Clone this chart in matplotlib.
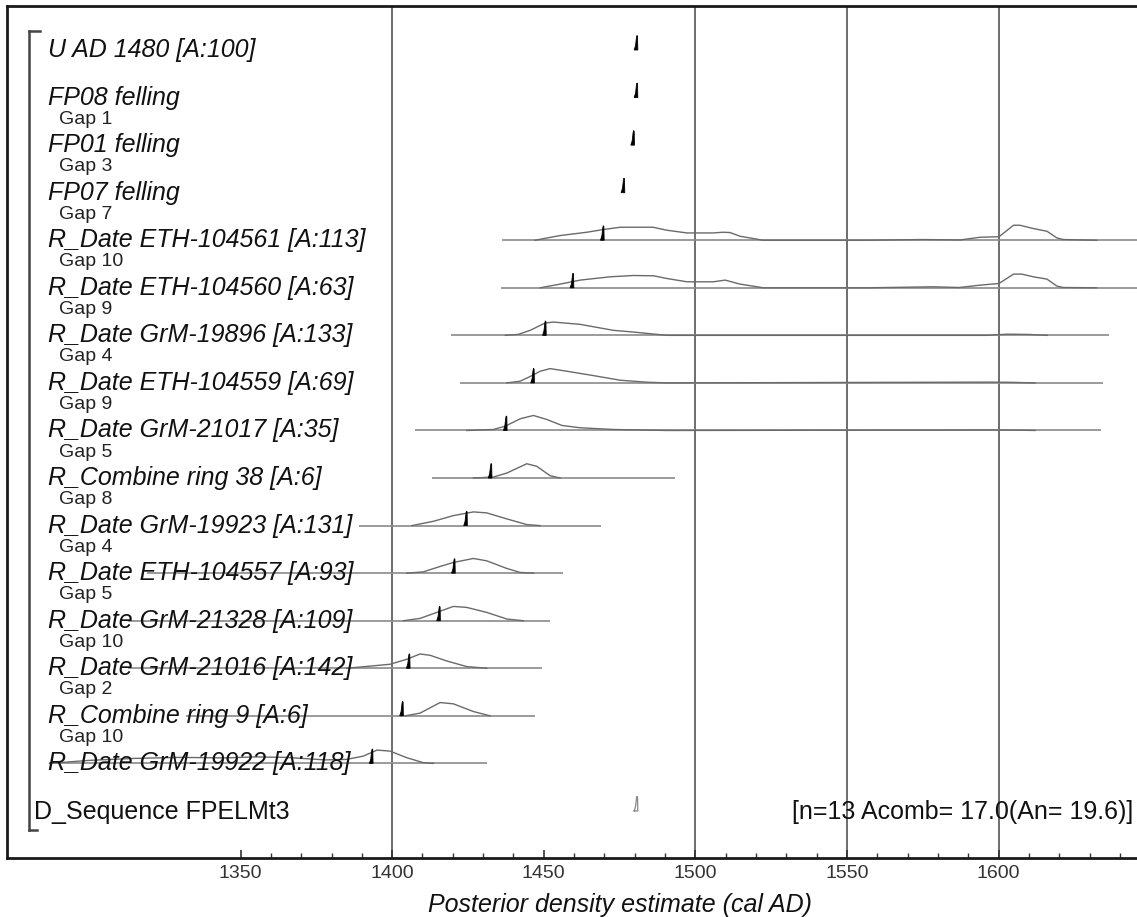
import numpy as np
import matplotlib
matplotlib.use("Agg")
import matplotlib.pyplot as plt
from matplotlib.lines import Line2D

plt.rcParams['font.family'] = ['Liberation Sans', 'DejaVu Sans']

# ---------------- data ----------------
labels = [
    "U AD 1480 [A:100]",
    "FP08 felling",
    "FP01 felling",
    "FP07 felling",
    "R_Date ETH-104561 [A:113]",
    "R_Date ETH-104560 [A:63]",
    "R_Date GrM-19896 [A:133]",
    "R_Date ETH-104559 [A:69]",
    "R_Date GrM-21017 [A:35]",
    "R_Combine ring 38 [A:6]",
    "R_Date GrM-19923 [A:131]",
    "R_Date ETH-104557 [A:93]",
    "R_Date GrM-21328 [A:109]",
    "R_Date GrM-21016 [A:142]",
    "R_Combine ring 9 [A:6]",
    "R_Date GrM-19922 [A:118]",
    "D_Sequence FPELMt3",
]
gap_labels = [None, None, "Gap 1", "Gap 3", "Gap 7", "Gap 10", "Gap 9", "Gap 4",
              "Gap 9", "Gap 5", "Gap 8", "Gap 4", "Gap 5", "Gap 10", "Gap 2",
              "Gap 10", None]
posterior_mode = [1480.7, 1480.7, 1479.6, 1476.4, 1469.6, 1459.6, 1450.5,
                  1446.6, 1437.6, 1432.6, 1424.5, 1420.5, 1415.6, 1405.6,
                  1403.4, 1393.4, 1480.7]
range_start = [None, None, None, None, 1436.3, 1436.0, 1419.3, 1422.4, 1407.4,
               1413.3, 1389.0, 1319.0, 1313.0, 1313.0, 1332.0, 1287.0, None]
range_end = [None, None, None, None, 1650.0, 1650.0, 1636.4, 1634.4, 1633.7,
             1493.3, 1469.0, 1456.3, 1452.0, 1449.4, 1447.0, 1431.2, None]

likelihood_years = [
    None, None, None, None,
    [1447.1, 1455.4, 1464.2, 1469.6, 1475.2, 1486.0, 1490.6, 1497.2, 1505.8,
     1509.1, 1511.4, 1514.7, 1522.3, 1556.5, 1575.0, 1587.3, 1593.9, 1600.1,
     1604.9, 1607.0, 1611.4, 1615.9, 1619.2, 1621.3, 1632.3],
    [1448.8, 1455.4, 1462.0, 1471.9, 1479.6, 1486.2, 1490.6, 1497.2, 1505.9,
     1509.8, 1514.7, 1522.4, 1556.5, 1578.4, 1587.0, 1594.0, 1600.1, 1604.9,
     1607.6, 1611.4, 1615.9, 1619.2, 1621.3, 1632.3],
    [1437.3, 1441.6, 1445.5, 1450.4, 1453.2, 1462.0, 1473.0, 1479.6, 1490.6,
     1596.0, 1603.0, 1610.0, 1616.0],
    [1437.8, 1442.2, 1446.1, 1448.8, 1452.1, 1457.6, 1466.4, 1475.2, 1484.0,
     1490.6, 1597.0, 1604.0, 1612.0],
    [1424.6, 1433.4, 1437.3, 1442.2, 1446.6, 1451.0, 1456.0, 1462.0, 1473.0,
     1490.6, 1598.0, 1605.0, 1612.0],
    [1426.8, 1433.4, 1437.8, 1444.4, 1447.7, 1452.1, 1455.4],
    [1406.5, 1413.6, 1420.2, 1426.8, 1431.2, 1437.8, 1444.4, 1448.8],
    [1404.8, 1410.3, 1415.8, 1420.2, 1426.8, 1431.2, 1437.8, 1442.2, 1446.6],
    [1403.7, 1409.2, 1414.7, 1420.2, 1424.6, 1431.2, 1437.8, 1443.3],
    [1385.0, 1399.3, 1404.8, 1409.2, 1412.5, 1418.0, 1424.6, 1431.2],
    [1404.3, 1409.2, 1415.8, 1420.2, 1426.8, 1432.3],
    [1287.0, 1300.0, 1315.0, 1330.0, 1345.0, 1355.0, 1365.0, 1378.0, 1385.0,
     1390.5, 1395.0, 1399.3, 1404.8, 1410.3, 1413.6],
    None,
]
likelihood_density = [
    None, None, None, None,
    [0, 4.7, 8, 10.7, 13, 13, 10, 7.3, 7.3, 8, 7.7, 4, 0, 0, 0.7, 0.3, 3,
     3.5, 15, 15, 11.7, 9, 2.3, 0.7, 0],
    [0, 3.7, 7.7, 11, 12.3, 12, 9.3, 6, 6, 7.7, 3.7, 0, 0, 1, 0.3, 2.7, 4.3,
     13.7, 13.7, 11, 8.7, 1.7, 0.3, 0],
    [0, 1, 5, 12.3, 13.3, 11, 5, 3.3, 0, 0, 1.2, 0.9, 0],
    [0, 1.7, 7.3, 11.7, 14.3, 11.7, 7.3, 2.7, 0.7, 0, 0.8, 0.6, 0],
    [0, 1, 4.3, 11.7, 15, 11, 5, 2.7, 1, 0, 0.5, 0.4, 0],
    [0, 1, 5, 14.3, 11.7, 2.3, 0],
    [0, 4.3, 10, 13.7, 12.7, 6.7, 1, 0],
    [0, 1.3, 6.7, 10.7, 14.7, 12.3, 4.7, 0.7, 0],
    [0, 2.3, 8.3, 14.3, 13.3, 8.3, 1.7, 0],
    [0, 4, 9, 14.3, 13, 7.3, 1.7, 0],
    [0, 2.7, 13.3, 12, 4.3, 0],
    [0, 3, 5, 6, 5.5, 6.5, 6, 3.5, 4, 7.3, 13.3, 12.3, 5.7, 0.7, 0],
    None,
]

spike_offsets = [-0.9, -0.45, -0.15, 0.0, 0.2, 0.3]
spike_shape = [0.0, 0.3, 0.85, 1.0, 0.95, 0.0]

stats_text = "[n=13 Acomb= 17.0(An= 19.6)]"
x_major = [1350, 1400, 1450, 1500, 1550, 1600]
grid_years = [1400, 1500, 1550, 1600]
xlabel = "Posterior density estimate (cal AD)"

# ---------------- layout ----------------
W, H = 1137, 917
left_px, top_px, bottom_px, right_px = 7, 6, 858, 1137
first_row_px, px_per_row = 50.0, 47.56
spike_px = 14.5

fig = plt.figure(figsize=(W / 100, H / 100), dpi=100)
ax = fig.add_axes([left_px / W, 1 - bottom_px / H,
                   (right_px - left_px) / W, (bottom_px - top_px) / H])
ax.set_xlim(1273, 1645.6)
ax.set_ylim((bottom_px - first_row_px) / px_per_row,
            (top_px - first_row_px) / px_per_row)


def axx(px):
    return (px - left_px) / (right_px - left_px)


ytr = ax.get_yaxis_transform()

for g in grid_years:
    ax.axvline(g, color='#555555', lw=1.2, zorder=1)

n = len(labels)
for i in range(n):
    # baseline
    if range_start[i] is not None:
        ax.plot([range_start[i], range_end[i]], [i, i], color='#8a8a8a',
                lw=1.2, zorder=2, solid_capstyle='butt')
    # likelihood outline
    if likelihood_years[i] is not None:
        yy = i - np.array(likelihood_density[i]) / px_per_row
        ax.plot(likelihood_years[i], yy, color='#6a6a6a', lw=1.0, zorder=3)
    # posterior spike
    xs = posterior_mode[i] + np.array(spike_offsets)
    ys = i - np.array(spike_shape) * spike_px / px_per_row
    if i == n - 1:
        ax.plot(np.r_[xs, xs[0]], np.r_[ys, ys[0]], color='#888888', lw=0.9,
                zorder=4)
    else:
        ax.fill(xs, ys, color='black', lw=0.6, zorder=4)
    # labels
    if i == n - 1:
        ax.text(axx(34), i + 8 / px_per_row, labels[i], transform=ytr,
                fontsize=18, va='baseline', ha='left', color='#111111')
    else:
        ax.text(axx(48), i + 7 / px_per_row, labels[i], transform=ytr,
                fontsize=18, style='italic', va='baseline', ha='left',
                color='#111111')
    if gap_labels[i] is not None:
        ax.text(axx(59), i - 26 / px_per_row, gap_labels[i], transform=ytr,
                fontsize=14, va='center', ha='left', color='#222222')

ax.text(axx(1133), n - 1 + 8 / px_per_row, stats_text, transform=ytr,
        fontsize=18, va='baseline', ha='right', color='#111111')

# bracket
for (xa, ya, xb, yb) in [(29, 31, 29, 830), (29, 31, 40, 31), (29, 830, 37, 830)]:
    fig.add_artist(Line2D([xa / W, xb / W], [1 - ya / H, 1 - yb / H],
                          transform=fig.transFigure, color='#444444', lw=1.8))

# axes styling
for s in ['top', 'left', 'bottom']:
    ax.spines[s].set_linewidth(2.0)
    ax.spines[s].set_color('#1a1a1a')
ax.spines['right'].set_visible(False)
ax.set_yticks([])
ax.set_xticks(x_major)
ax.set_xticks(np.arange(1350, 1645, 10), minor=True)
ax.tick_params(axis='x', which='major', direction='in', length=6, width=1.2,
               color='#333333', labelsize=14, labelcolor='#333333', pad=5)
ax.tick_params(axis='x', which='minor', direction='in', length=3.5, width=1.0,
               color='#333333')
ax.set_xlabel(xlabel, fontsize=18, style='italic', color='#111111')
ax.xaxis.set_label_coords(axx(620), (bottom_px - 905) / (bottom_px - top_px))
ax.xaxis.label.set_va('center')

fig.savefig("out.png", dpi=100)
